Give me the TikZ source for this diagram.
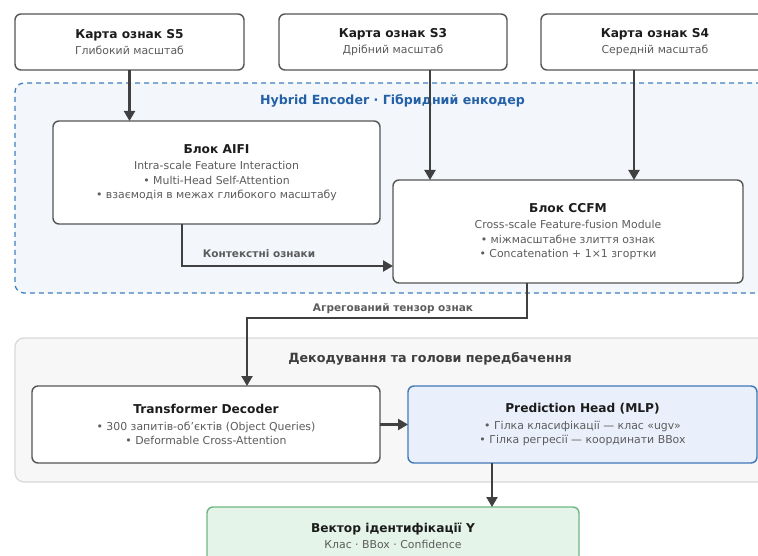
\documentclass[tikz,border=0pt]{standalone}
\usepackage{fontspec}
\setmainfont{DejaVu Sans}
\usetikzlibrary{arrows.meta}

\definecolor{boxline}{HTML}{555555}
\definecolor{arrowc}{HTML}{404040}
\definecolor{txtmain}{HTML}{1C1C1C}
\definecolor{txtsub}{HTML}{5C5C5C}
\definecolor{encfill}{HTML}{F3F7FC}
\definecolor{encline}{HTML}{3F7FBF}
\definecolor{enctitle}{HTML}{2461A6}
\definecolor{decfill}{HTML}{F7F7F7}
\definecolor{decline}{HTML}{D9D9D9}
\definecolor{headfill}{HTML}{E9F0FB}
\definecolor{headline}{HTML}{3F78B8}
\definecolor{outfill}{HTML}{E4F4E8}
\definecolor{outline}{HTML}{6DB784}

\newcommand{\hdr}[1]{{\fontsize{12.2}{16}\selectfont\bfseries\color{txtmain}#1}}
\newcommand{\dsc}[1]{{\color{txtsub}#1}}

\begin{document}
\begin{tikzpicture}[x=1pt,y=-1pt,
  every node/.style={inner sep=0pt, outer sep=0pt},
  block/.style={draw=boxline, line width=1.4pt, rounded corners=6pt, fill=white,
    align=center, font=\fontsize{10.9}{14.5}\selectfont},
  group/.style={rounded corners=9pt, line width=1.3pt},
  arr/.style={draw=arrowc, line width=2.1pt, -{Triangle[length=10pt,width=11pt]}},
  flowlabel/.style={font=\fontsize{10.5}{13}\selectfont\bfseries, text=txtsub}
]
\useasboundingbox (0,0) rectangle (758,556);
\clip (0,0) rectangle (758,556);

% group frames
\node[group, draw=encline, dash pattern=on 5pt off 4pt, fill=encfill,
  minimum width=755pt, minimum height=210pt] (enc) at (392.5,188) {};
\node[group, draw=decline, fill=decfill,
  minimum width=755pt, minimum height=144pt] (dec) at (392.5,410) {};
\node[font=\fontsize{12.6}{15}\selectfont\bfseries, text=enctitle] (enctitle) at (392.5,101)
  {Hybrid Encoder · Гібридний енкодер};
\node[font=\fontsize{12.7}{16}\selectfont\bfseries, text=txtmain!85] (dectitle) at (430,359)
  {Декодування та голови передбачення};

% input feature maps
\node[block, minimum width=229pt, minimum height=56pt] (s5) at (129.5,42)
  {\hdr{Карта ознак S5}\\[1.5pt]\dsc{Глибокий масштаб}};
\node[block, minimum width=228pt, minimum height=56pt] (s3) at (393,42)
  {\hdr{Карта ознак S3}\\[1.5pt]\dsc{Дрібний масштаб}};
\node[block, minimum width=228pt, minimum height=56pt] (s4) at (655,42)
  {\hdr{Карта ознак S4}\\[1.5pt]\dsc{Середній масштаб}};

% encoder blocks
\node[block, minimum width=327pt, minimum height=103pt] (aifi) at (216.5,172.5)
  {\hdr{Блок AIFI}\\[2pt]\dsc{Intra-scale Feature Interaction}\\
   \dsc{• Multi-Head Self-Attention}\\\dsc{• взаємодія в межах глибокого масштабу}};
\node[block, minimum width=350pt, minimum height=103pt] (ccfm) at (568,231.5)
  {\hdr{Блок CCFM}\\[2pt]\dsc{Cross-scale Feature-fusion Module}\\
   \dsc{• міжмасштабне злиття ознак}\\\dsc{• Concatenation + 1×1 згортки}};

% decoder and heads
\node[block, minimum width=348pt, minimum height=77pt] (tdec) at (206,424.5)
  {\hdr{Transformer Decoder}\\[2pt]\dsc{• 300 запитів-об'єктів (Object Queries)}\\
   \dsc{• Deformable Cross-Attention}};
\node[block, draw=headline, fill=headfill, minimum width=349pt, minimum height=77pt] (head) at (582.5,424.5)
  {\hdr{Prediction Head (MLP)}\\[2pt]\dsc{• Гілка класифікації — клас «ugv»}\\
   \dsc{• Гілка регресії — координати BBox}};
\node[block, draw=outline, fill=outfill, minimum width=372pt, minimum height=58pt] (out) at (393,536)
  {\hdr{Вектор ідентифікації Y}\\[1.5pt]\dsc{Клас · BBox · Confidence}};

% connectors
\draw[arr] (s5.south) -- (s5.south |- aifi.north);
\draw[arr] ([xshift=37pt]s3.south) -- ([xshift=37pt]s3.south |- ccfm.north);
\draw[arr] ([xshift=-21pt]s4.south) -- ([xshift=-21pt]s4.south |- ccfm.north);

\coordinate (aifiout) at ([xshift=-34.5pt]aifi.south);
\coordinate (ccfmin) at ([yshift=-34.5pt]ccfm.west);
\draw[arr] (aifiout) |- (ccfmin);
\node[flowlabel] (ctxlabel) at (259,254) {Контекстні ознаки};

\coordinate (ccfmout) at ([xshift=-41pt]ccfm.south);
\coordinate (tdecin) at ([xshift=41pt]tdec.north);
\coordinate (aggrow) at (0,318);
\draw[arr] (ccfmout) -- (ccfmout |- aggrow) -| (tdecin);
\node[flowlabel] (agglabel) at (393,308.5) {Агрегований тензор ознак};

\draw[arr] (tdec.east) -- (head.west);
\draw[arr] ([xshift=-90.5pt]head.south) -- ([xshift=-90.5pt]head.south |- out.north);
\end{tikzpicture}
\end{document}
